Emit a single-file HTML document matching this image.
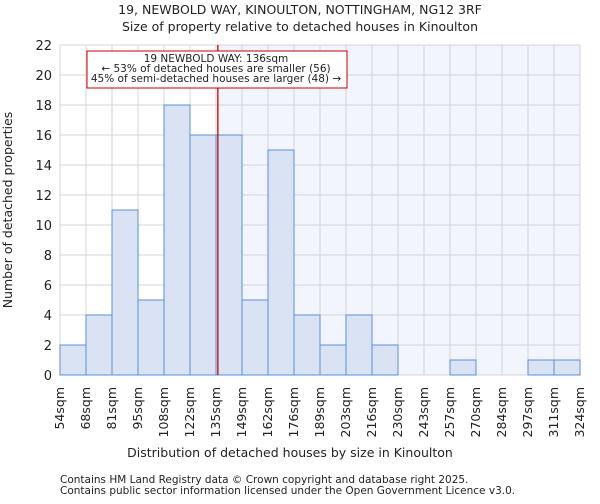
<!DOCTYPE html>
<html><head><meta charset="utf-8"><style>
body{margin:0;background:#fff;font-family:"DejaVu Sans","Liberation Sans",sans-serif;}
svg text{font-family:"DejaVu Sans","Liberation Sans",sans-serif;fill:#222;}
</style></head><body>
<svg id="chart" width="600" height="500">
<text x="300" y="14" font-size="12.5" text-anchor="middle">19, NEWBOLD WAY, KINOULTON, NOTTINGHAM, NG12 3RF</text>
<text x="300" y="31" font-size="12.5" text-anchor="middle">Size of property relative to detached houses in Kinoulton</text>
<g id="plot"></g>
<text x="290" y="457" font-size="12.5" text-anchor="middle">Distribution of detached houses by size in Kinoulton</text>
<text transform="translate(12,210) rotate(-90)" font-size="12.5" text-anchor="middle">Number of detached properties</text>
<text x="60" y="483" font-size="10.5">Contains HM Land Registry data © Crown copyright and database right 2025.</text>
<text x="60" y="494" font-size="10.5">Contains public sector information licensed under the Open Government Licence v3.0.</text>
</svg>
<script>
const binLabels=["54sqm","68sqm","81sqm","95sqm","108sqm","122sqm","135sqm","149sqm","162sqm","176sqm","189sqm","203sqm","216sqm","230sqm","243sqm","257sqm","270sqm","284sqm","297sqm","311sqm","324sqm"];
const counts=[2,4,11,5,18,16,16,5,15,4,2,4,2,0,0,1,0,0,1,1];
const yTicks=[0,2,4,6,8,10,12,14,16,18,20,22];
const binEdges=[54,68,81,95,108,122,135,149,162,176,189,203,216,230,243,257,270,284,297,311,324];
const propertySize=136;
const annotation=["19 NEWBOLD WAY: 136sqm","← 53% of detached houses are smaller (56)","45% of semi-detached houses are larger (48) →"];
const L=60,R=580,T=45,B=375,yMax=22;
const nb=counts.length,bw=(R-L)/nb;
const xi=i=>L+i*bw;
const y=v=>B-(v/yMax)*(B-T);
function xv(v){for(let i=0;i<binEdges.length-1;i++){if(v<=binEdges[i+1]){return xi(i)+(v-binEdges[i])/(binEdges[i+1]-binEdges[i])*bw;}}return R;}
const g=document.getElementById('plot');const NS="http://www.w3.org/2000/svg";
function mk(t,a){const e=document.createElementNS(NS,t);for(const k in a)e.setAttribute(k,a[k]);g.appendChild(e);return e;}
const rx=xv(propertySize);
let e=mk('rect',{x:rx,y:T,width:R-rx,height:B-T,fill:'#f2f5fd'});


for(let i=0;i<=nb;i++){e=mk('line',{x1:xi(i),x2:xi(i),y1:T,y2:B,stroke:'#d4d4d4','stroke-width':1});

}
yTicks.forEach(t=>{e=mk('line',{x1:L,x2:R,y1:y(t),y2:y(t),stroke:'#d4d4d4','stroke-width':1});


e=mk('text',{x:L-8,y:y(t)+5,'font-size':13,'text-anchor':'end'});e.textContent=t;

});
counts.forEach((c,i)=>{if(c>0){e=mk('rect',{x:xi(i),y:y(c),width:bw,height:B-y(c),fill:'#dae3f3',stroke:'#5b8fd6','stroke-width':1});

}});
binLabels.forEach((l,i)=>{const x=xi(i);e=mk('text',{transform:`translate(${x+4},387) rotate(-90)`,'font-size':12.5,'text-anchor':'end'});e.textContent=l;

});
e=mk('line',{x1:rx,x2:rx,y1:T,y2:B,stroke:'#cc0000','stroke-width':1.3});


e=mk('rect',{x:87,y:51,width:260,height:37,fill:'#fff',stroke:'#cc0000','stroke-width':1});


annotation.forEach((s,i)=>{e=mk('text',{x:216,y:62+i*10,'font-size':10.5,'text-anchor':'middle'});e.textContent=s;

});
</script>
</body></html>
